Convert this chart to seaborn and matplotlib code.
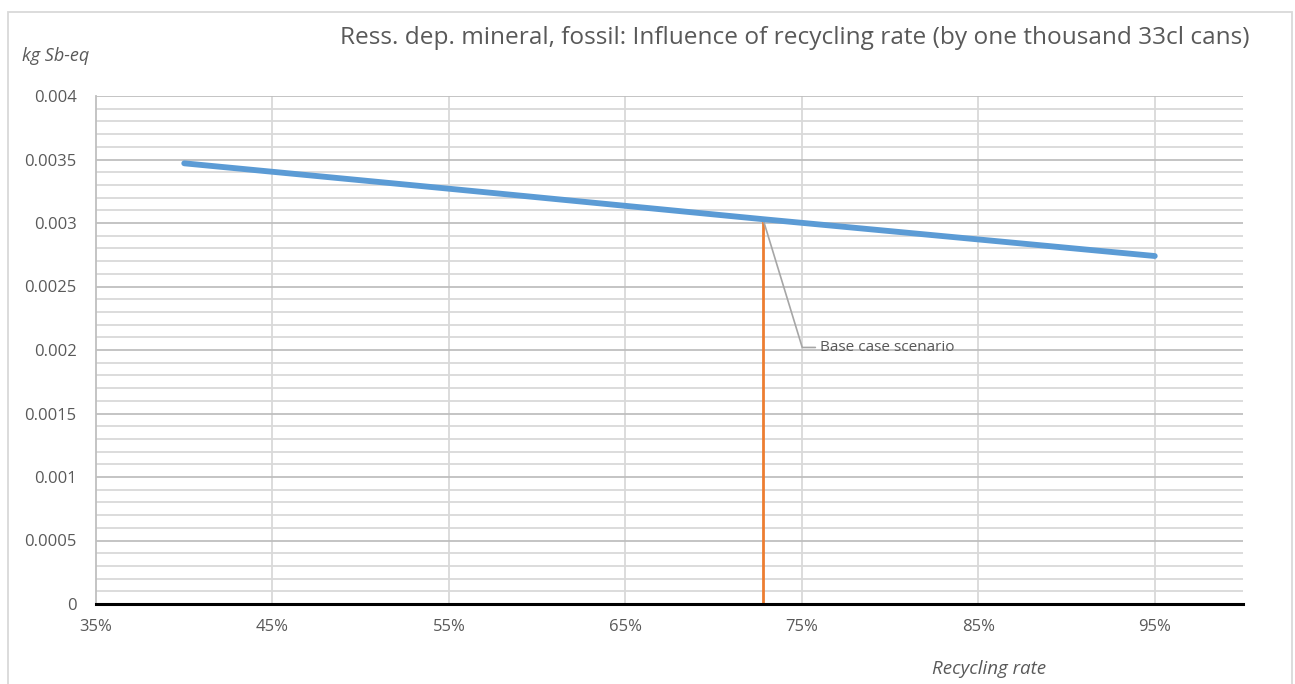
import numpy as np
import pandas as pd
import matplotlib
matplotlib.use("Agg")
import matplotlib.pyplot as plt
from matplotlib.patches import Rectangle
from matplotlib.ticker import MultipleLocator, FixedLocator
import seaborn as sns

# Recycling rate (fraction) and resource depletion per 1000 cans (kg Sb-eq)
recycling_rate = [0.40, 0.55, 0.728, 0.95]
depletion = [0.00347, 0.00327, 0.00303, 0.00274]

base_rate = 0.728
base_value = 0.00303

x_ticks = [0.35, 0.45, 0.55, 0.65, 0.75, 0.85, 0.95]
x_tick_labels = ["35%", "45%", "55%", "65%", "75%", "85%", "95%"]
y_ticks = [0, 0.0005, 0.001, 0.0015, 0.002, 0.0025, 0.003, 0.0035, 0.004]
y_tick_labels = ["0", "0.0005", "0.001", "0.0015", "0.002", "0.0025", "0.003", "0.0035", "0.004"]

title = "Ress. dep. mineral, fossil: Influence of recycling rate (by one thousand 33cl cans)"

sns.set_theme(style="white")
plt.rcParams["font.family"] = ["Open Sans", "DejaVu Sans"]

W, H, DPI = 1295, 684, 100
fig = plt.figure(figsize=(W / DPI, H / DPI), dpi=DPI)
fig.patch.set_facecolor("white")

# plot area in pixel coordinates
left, right, top, bottom = 96, 1243, 96, 604
ax = fig.add_axes([left / W, 1 - bottom / H, (right - left) / W, (bottom - top) / H])

df = pd.DataFrame({"rate": recycling_rate, "value": depletion})
sns.lineplot(data=df, x="rate", y="value", ax=ax, color="#5b9bd5",
             linewidth=4.2, solid_capstyle="round", zorder=4)

ax.vlines(base_rate, 0, base_value, color="#ed7d31", linewidth=2.0, zorder=3)

ax.set_xlim(0.35, 1.0)
ax.set_ylim(0, 0.004)

ax.xaxis.set_major_locator(FixedLocator(x_ticks))
ax.set_xticklabels(x_tick_labels)
ax.yaxis.set_major_locator(FixedLocator(y_ticks))
ax.set_yticklabels(y_tick_labels)
ax.yaxis.set_minor_locator(MultipleLocator(0.0001))

ax.grid(False)
ax.grid(which="major", axis="y", color="#bfbfbf", linewidth=1.3, zorder=0)
ax.grid(which="minor", axis="y", color="#d9d9d9", linewidth=1.3, zorder=0)
for xv in x_ticks[1:]:
    ax.axvline(xv, color="#d9d9d9", linewidth=1.3, zorder=0)

ax.tick_params(axis="both", which="both", length=0, labelsize=12, colors="#595959")
ax.tick_params(axis="x", pad=11)
ax.tick_params(axis="y", pad=14)
ax.set_xlabel("")
ax.set_ylabel("")

for side in ["top", "right"]:
    ax.spines[side].set_visible(False)
ax.spines["left"].set_color("#bfbfbf")
ax.spines["left"].set_linewidth(1.3)
ax.spines["bottom"].set_color("black")
ax.spines["bottom"].set_linewidth(2.2)
ax.spines["bottom"].set_zorder(5)

# leader line and label for the base case
ax.annotate("Base case scenario", xy=(base_rate, base_value),
            xytext=(0.7603, 0.00202), textcoords="data",
            fontsize=11, color="#595959", va="center", ha="left",
            arrowprops=dict(arrowstyle="-", color="#a6a6a6", linewidth=1.2,
                            connectionstyle="angle,angleA=0,angleB=107,rad=0",
                            shrinkA=1, shrinkB=0))

fig.text(1250 / W, 1 - 38 / H, title, ha="right", va="center",
         fontsize=17.6, color="#595959")
fig.text(22 / W, 1 - 56 / H, "kg Sb-eq", ha="left", va="center",
         fontsize=13, color="#595959", style="italic")
fig.text(989 / W, 1 - 669 / H, "Recycling rate", ha="center", va="center",
         fontsize=13.5, color="#595959", style="italic")

# chart frame
fig.patches.append(Rectangle((8 / W, -0.05), (1292 - 8) / W, 1.05 - 12 / H,
                             transform=fig.transFigure, fill=False,
                             edgecolor="#d9d9d9", linewidth=1.3))

fig.savefig("out.png", dpi=DPI, facecolor="white")
